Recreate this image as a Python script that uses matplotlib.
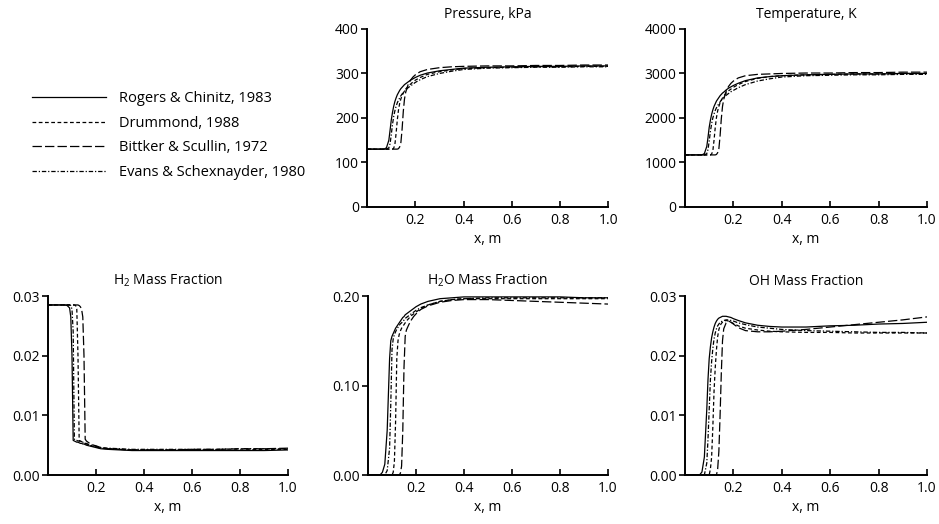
import matplotlib
matplotlib.use("Agg")
import matplotlib.pyplot as plt

plt.rcParams['font.family'] = ['Open Sans', 'DejaVu Sans']
plt.rcParams['font.size'] = 10

# shared x grid (m)
x = [0.00, 0.05, 0.06, 0.07, 0.08, 0.09, 0.095,
     0.10, 0.105, 0.11, 0.115, 0.12, 0.125, 0.13, 0.135,
     0.14, 0.145, 0.15, 0.155, 0.16, 0.17, 0.18,
     0.19, 0.20, 0.22, 0.25, 0.30, 0.35,
     0.40, 0.50, 0.60, 0.70, 0.80, 0.90, 1.00]

labels = ["Rogers & Chinitz, 1983", "Drummond, 1988",
          "Bittker & Scullin, 1972", "Evans & Schexnayder, 1980"]

# pressure, kPa
p_rogers = [130, 130, 130, 130, 133, 150, 172,
            195, 212, 226, 237, 245, 252, 257, 262,
            266, 269, 272, 275, 277, 281, 285,
            288, 291, 296, 301, 306, 309,
            312, 314, 315, 316, 316, 317, 317]
p_drummond = [130, 130, 130, 130, 130, 130, 130,
              130, 130, 132, 140, 165, 195, 218, 233,
              243, 250, 256, 261, 265, 271, 276,
              281, 285, 291, 298, 304, 308,
              311, 313, 314, 315, 315, 316, 316]
p_bittker = [130, 130, 130, 130, 130, 130, 130,
             130, 130, 130, 130, 130, 130, 131, 135,
             145, 175, 215, 243, 258, 275, 285,
             292, 297, 304, 309, 313, 315,
             316, 317, 317, 318, 318, 319, 319]
p_evans = [130, 130, 130, 130, 130, 133, 142,
           162, 185, 203, 216, 226, 234, 240, 245,
           250, 254, 257, 260, 263, 268, 272,
           276, 280, 286, 293, 300, 305,
           309, 312, 313, 314, 314, 315, 315]

# temperature, K
t_rogers = [1170, 1170, 1170, 1170, 1200, 1360, 1560,
            1790, 1950, 2080, 2180, 2260, 2320, 2380, 2420,
            2460, 2500, 2530, 2560, 2580, 2630, 2670,
            2700, 2730, 2780, 2840, 2900, 2930,
            2950, 2970, 2980, 2990, 2990, 3000, 3000]
t_drummond = [1170, 1170, 1170, 1170, 1170, 1170, 1170,
              1170, 1170, 1190, 1260, 1500, 1790, 2010, 2160,
              2260, 2340, 2400, 2450, 2490, 2560, 2610,
              2650, 2690, 2750, 2820, 2890, 2930,
              2950, 2970, 2980, 2990, 2990, 3000, 3000]
t_bittker = [1170, 1170, 1170, 1170, 1170, 1170, 1170,
             1170, 1170, 1170, 1170, 1170, 1170, 1180, 1220,
             1310, 1600, 1980, 2260, 2420, 2600, 2710,
             2780, 2830, 2900, 2950, 2980, 2990,
             3000, 3010, 3010, 3020, 3020, 3030, 3030]
t_evans = [1170, 1170, 1170, 1170, 1170, 1200, 1290,
           1480, 1700, 1870, 2000, 2090, 2170, 2230, 2280,
           2320, 2360, 2400, 2430, 2460, 2510, 2550,
           2590, 2620, 2680, 2750, 2830, 2880,
           2920, 2950, 2960, 2970, 2970, 2980, 2980]

# H2 mass fraction
h2_rogers = [.0285, .0285, .0285, .0285, .0284, .0280, .0265,
             .0200, .0058, .0057, .0056, .0055, .0055, .0054, .0053,
             .0053, .0052, .0052, .0051, .0050, .0049, .0048,
             .0047, .0046, .0044, .0043, .0042, .0041,
             .0041, .0041, .0041, .0041, .0041, .0041, .0042]
h2_drummond = [.0285, .0285, .0285, .0285, .0285, .0285, .0285,
               .0285, .0285, .0285, .0284, .0278, .0200, .0058, .0057,
               .0056, .0055, .0054, .0053, .0052, .0050, .0049,
               .0048, .0047, .0045, .0044, .0043, .0042,
               .0042, .0042, .0042, .0042, .0042, .0043, .0043]
h2_bittker = [.0285, .0285, .0285, .0285, .0285, .0285, .0285,
              .0285, .0285, .0285, .0285, .0285, .0285, .0284, .0282,
              .0278, .0265, .0200, .0060, .0057, .0054, .0052,
              .0050, .0049, .0046, .0044, .0043, .0042,
              .0042, .0042, .0043, .0043, .0044, .0044, .0045]
h2_evans = [.0285, .0285, .0285, .0285, .0285, .0285, .0284,
            .0278, .0240, .0060, .0058, .0058, .0057, .0057, .0056,
            .0055, .0055, .0054, .0053, .0053, .0051, .0050,
            .0049, .0048, .0046, .0045, .0044, .0043,
            .0043, .0043, .0043, .0043, .0044, .0044, .0044]

# H2O mass fraction
h2o_rogers = [0, 0, .003, .012, .050, .130, .150,
              .155, .158, .161, .164, .166, .168, .170, .172,
              .174, .176, .177, .179, .180, .182, .184,
              .186, .188, .191, .194, .197, .198,
              .199, .199, .199, .199, .199, .198, .198]
h2o_drummond = [0, 0, 0, 0, 0, 0, 0,
                0, .003, .015, .060, .130, .150, .157, .161,
                .164, .166, .168, .170, .172, .175, .178,
                .180, .182, .186, .190, .194, .196,
                .197, .197, .197, .197, .197, .197, .197]
h2o_bittker = [0, 0, 0, 0, 0, 0, 0,
               0, 0, 0, 0, 0, 0, 0, .002,
               .010, .050, .120, .155, .162, .168, .173,
               .177, .180, .185, .189, .193, .195,
               .196, .196, .195, .194, .193, .192, .191]
h2o_evans = [0, 0, 0, 0, .005, .030, .080,
             .140, .152, .157, .160, .163, .165, .167, .169,
             .170, .172, .173, .175, .176, .178, .180,
             .182, .184, .187, .190, .194, .196,
             .197, .198, .198, .198, .198, .198, .198]

# OH mass fraction
oh_rogers = [0, 0, 0, .0005, .003, .011, .016,
             .0195, .0215, .0230, .0240, .0248, .0254, .0258, .0261,
             .0263, .0264, .0265, .0266, .0266, .0266, .0265,
             .0264, .0262, .0259, .0255, .0251, .0249,
             .0248, .0248, .0250, .0251, .0253, .0254, .0256]
oh_drummond = [0, 0, 0, 0, 0, 0, 0,
               0, .001, .003, .008, .014, .018, .021, .0232,
               .0244, .0250, .0254, .0256, .0258, .0259, .0258,
               .0256, .0254, .0250, .0246, .0243, .0241,
               .0240, .0239, .0239, .0238, .0238, .0238, .0238]
oh_bittker = [0, 0, 0, 0, 0, 0, 0,
              0, 0, 0, 0, 0, 0, 0, .001,
              .004, .010, .017, .0225, .0245, .0255, .0258,
              .0256, .0253, .0247, .0242, .0240, .0240,
              .0241, .0244, .0248, .0252, .0256, .0260, .0265]
oh_evans = [0, 0, 0, 0, 0, .002, .006,
            .011, .016, .0190, .0212, .0228, .0238, .0245, .0250,
            .0253, .0256, .0257, .0258, .0259, .0260, .0260,
            .0259, .0258, .0255, .0252, .0248, .0246,
            .0244, .0242, .0241, .0240, .0239, .0239, .0238]

styles = ['-', (0, (3, 2)), (0, (7.5, 2.5)), (0, (3.5, 1.5, 1, 1.5))]

panels = [
    ("Pressure, kPa", [p_rogers, p_drummond, p_bittker, p_evans],
     [0, 100, 200, 300, 400], "%d", [0.391, 0.605, 0.2567, 0.3397]),
    ("Temperature, K", [t_rogers, t_drummond, t_bittker, t_evans],
     [0, 1000, 2000, 3000, 4000], "%d", [0.7295, 0.605, 0.2577, 0.3397]),
    ("H$_\\mathregular{2}$ Mass Fraction", [h2_rogers, h2_drummond, h2_bittker, h2_evans],
     [0, 0.01, 0.02, 0.03], "%.2f", [0.0511, 0.0935, 0.2556, 0.3416]),
    ("H$_\\mathregular{2}$O Mass Fraction", [h2o_rogers, h2o_drummond, h2o_bittker, h2o_evans],
     [0, 0.10, 0.20], "%.2f", [0.3919, 0.0935, 0.2556, 0.3416]),
    ("OH Mass Fraction", [oh_rogers, oh_drummond, oh_bittker, oh_evans],
     [0, 0.01, 0.02, 0.03], "%.2f", [0.7295, 0.0935, 0.2577, 0.3416]),
]

fig = plt.figure(figsize=(9.39, 5.24), dpi=100)

for title, series, yt, fmt, pos in panels:
    ax = fig.add_axes(pos)
    for ys, ls, lab in zip(series, styles, labels):
        assert len(ys) == len(x)
        ax.plot(x, ys, color='black', linestyle=ls, linewidth=0.9, label=lab)
    ax.set_xlim(0, 1.0)
    ax.set_ylim(yt[0], yt[-1])
    ax.set_xticks([0.2, 0.4, 0.6, 0.8, 1.0])
    ax.set_xticklabels(['0.2', '0.4', '0.6', '0.8', '1.0'])
    ax.set_yticks(yt)
    ax.set_yticklabels([fmt % v for v in yt])
    ax.spines['top'].set_visible(False)
    ax.spines['right'].set_visible(False)
    ax.spines['left'].set_linewidth(1.4)
    ax.spines['bottom'].set_linewidth(1.4)
    ax.tick_params(axis='x', direction='in', length=4, width=1.2, pad=4)
    ax.tick_params(axis='y', direction='out', length=4, width=1.2, pad=2)
    ax.set_title(title, fontsize=10, pad=8)
    ax.set_xlabel("x, m", labelpad=3)

handles, labs = ax.get_legend_handles_labels()
fig.legend(handles, labs, loc='upper left', bbox_to_anchor=(0.034, 0.826),
           frameon=False, borderpad=0, borderaxespad=0, handlelength=5.1,
           handletextpad=0.9, labelspacing=0.66, fontsize=10.5)

fig.savefig("out.png", dpi=100)
